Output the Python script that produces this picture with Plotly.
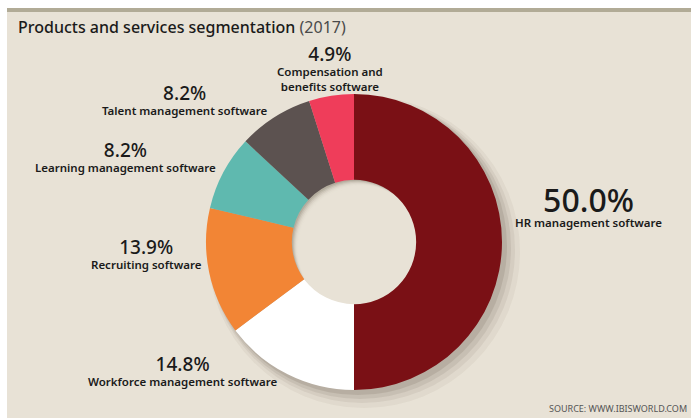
import plotly.graph_objects as go

# Segment data (clockwise from 12 o'clock)
segments = ["HR management software", "Workforce management software", "Recruiting software",
            "Learning management software", "Talent management software",
            "Compensation and benefits software"]
shares = [50.0, 14.8, 13.9, 8.2, 8.2, 4.9]
colors = ["#7A1015", "#FFFFFF", "#F28535", "#5FB9AF", "#5C5250", "#EF3D5A"]

# Label text split into lines for annotations
label_lines = ["HR management software", "Workforce management software", "Recruiting software",
               "Learning management software", "Talent management software",
               "Compensation and<br>benefits software"]

W, H = 691, 418
BG = "#E8E2D6"
FONT = "Noto Sans"

# Donut geometry in pixels
cx, cy, r = 354, 242, 148
hole_frac = 0.42

def px(x):
    return x / W

def py(y):
    return 1 - y / H

fig = go.Figure()
fig.add_trace(go.Pie(
    labels=segments, values=shares, sort=False, direction="clockwise", rotation=0,
    hole=hole_frac, marker=dict(colors=colors, line=dict(width=0)),
    textinfo="none", hoverinfo="label+percent", showlegend=False,
    domain=dict(x=[px(cx - r), px(cx + r)], y=[py(cy + r), py(cy - r)]),
))

shapes = []
# background panel and top rule
shapes.append(dict(type="rect", xref="paper", yref="paper", x0=px(7), x1=1, y0=0, y1=py(12),
                   fillcolor=BG, line=dict(width=0), layer="below"))
shapes.append(dict(type="rect", xref="paper", yref="paper", x0=px(7), x1=1, y0=py(12), y1=py(8),
                   fillcolor="#B1AB96", line=dict(width=0), layer="below"))

# soft drop shadow behind the ring
for off, grow, a in [(10, 8, 0.05), (8, 5, 0.07), (6, 3, 0.09), (4, 1, 0.12)]:
    shapes.append(dict(type="circle", xref="paper", yref="paper",
                       x0=px(cx - r - grow + off), x1=px(cx + r + grow + off),
                       y0=py(cy + r + grow + off), y1=py(cy - r - grow + off),
                       fillcolor=f"rgba(70,60,45,{a})", line=dict(width=0), layer="below"))

# inner shadow inside the hole
rh = r * hole_frac
shapes.append(dict(type="circle", xref="paper", yref="paper",
                   x0=px(cx - rh), x1=px(cx + rh), y0=py(cy + rh), y1=py(cy - rh),
                   fillcolor="#B3AC9D", line=dict(width=0), layer="below"))
for off, shrink, a in [(2, 1, 0.3), (3, 2, 0.4), (4, 3, 0.5), (5, 4, 0.6), (6, 5, 0.75),
                       (7, 6, 0.9), (8, 7, 1.0)]:
    rr = rh - shrink + off
    shapes.append(dict(type="circle", xref="paper", yref="paper",
                       x0=px(cx - rr + off), x1=px(cx + rr + off),
                       y0=py(cy + rr + off), y1=py(cy - rr + off),
                       fillcolor=BG, opacity=a, line=dict(width=0), layer="below"))

annotations = []
annotations.append(dict(x=px(16), y=py(27), xref="paper", yref="paper", xanchor="left", yanchor="middle",
                        text="Products and services segmentation <span style='color:#4a4a4a;font-weight:400'>(2017)</span>",
                        showarrow=False, font=dict(family=FONT, size=16, color="#1a1a1a", weight=500)))

# label anchor points (pixel centres of the label block) and percent font size
label_pos = [
    (588, 204, 32),
    (182, 370, 19),
    (146, 253, 19),
    (125, 156, 19),
    (185, 99, 19),
    (330, 68, 19),
]
for (x, y, fs), v, name in zip(label_pos, shares, label_lines):
    annotations.append(dict(x=px(x), y=py(y), xref="paper", yref="paper", xanchor="center", yanchor="middle",
                            text=f"<span style='font-size:{fs}px;font-weight:500'>{v:.1f}%</span><br>{name}",
                            showarrow=False, align="center",
                            font=dict(family=FONT, size=11.5, color="#1a1a1a", weight=600)))

annotations.append(dict(x=px(689), y=py(408), xref="paper", yref="paper", xanchor="right", yanchor="middle",
                        text="SOURCE: WWW.IBISWORLD.COM", showarrow=False,
                        font=dict(family=FONT, size=9, color="#555")))

fig.update_layout(width=W, height=H, margin=dict(l=0, r=0, t=0, b=0),
                  paper_bgcolor="white", plot_bgcolor="white",
                  shapes=shapes, annotations=annotations)
fig.write_html("out.html")
